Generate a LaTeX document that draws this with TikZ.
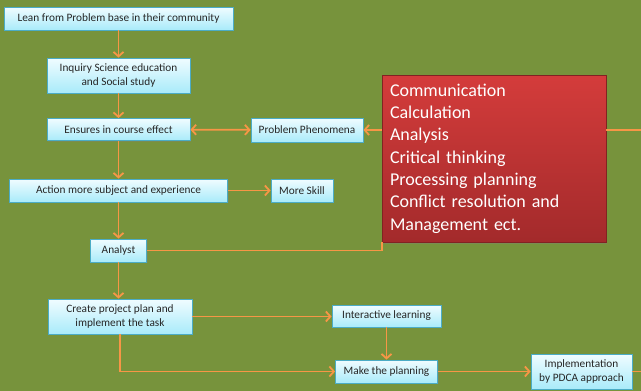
\documentclass[tikz,border=0pt]{standalone}
\usepackage{fontspec}
\setmainfont{Carlito}
\usetikzlibrary{arrows.meta,shadows}
\definecolor{olivebg}{HTML}{77933C}
\definecolor{boxtop}{HTML}{F0FCFF}
\definecolor{boxbot}{HTML}{A9EBFA}
\definecolor{boxline}{HTML}{4BACC6}
\definecolor{linkor}{HTML}{F79646}
\definecolor{redtop}{HTML}{D43C3B}
\definecolor{redbot}{HTML}{A32A2B}

\begin{document}
\begin{tikzpicture}[x=1pt, y=-1pt,
    >={Straight Barb[length=4.5pt,width=10pt]},
    stepbox/.style={shape=rectangle, draw=boxline, line width=0.8pt, top color=boxtop, bottom color=boxbot,
        font=\fontsize{11.3}{13.4}\selectfont, text=black!85, align=center, inner sep=1pt,
        drop shadow={shadow xshift=1pt, shadow yshift=-1.2pt, opacity=0.35}},
    skillbox/.style={shape=rectangle, draw=redbot!80!black, line width=0.6pt, top color=redtop, bottom color=redbot,
        font=\fontsize{18}{22.3}\selectfont, text=white, align=left, inner sep=8pt,
        drop shadow={shadow xshift=1.2pt, shadow yshift=-1.5pt, opacity=0.35}},
    link/.style={draw=linkor, line width=1.8pt}]
    \fill[olivebg] (0,0) rectangle (641,391);
    \useasboundingbox (0,0) rectangle (641,391);

    \node[stepbox, minimum width=229pt, minimum height=23pt] (lean) at (118.5,18.5) {Lean from Problem base in their community};
    \node[stepbox, minimum width=143pt, minimum height=35pt] (inquiry) at (118.5,75.5) {Inquiry Science education\\and Social study};
    \node[stepbox, minimum width=143pt, minimum height=22pt] (ensures) at (118.5,129.5) {Ensures in course effect};
    \node[stepbox, minimum width=112pt, minimum height=24pt] (phenom) at (307,130) {Problem Phenomena};
    \node[skillbox, minimum width=224pt, minimum height=167pt, text width=208pt] (skills) at (494,158.5) {Communication\\Calculation\\Analysis\\Critical thinking\\Processing planning\\Conflict resolution and\\Management ect.};
    \node[stepbox, minimum width=218pt, minimum height=23pt] (action) at (118.5,190.5) {Action more subject and experience};
    \node[stepbox, minimum width=62pt, minimum height=23pt] (skill) at (302,190.5) {More Skill};
    \node[stepbox, minimum width=56pt, minimum height=23pt] (analyst) at (118.5,250.5) {Analyst};
    \node[stepbox, minimum width=144pt, minimum height=35pt] (create) at (120,316.5) {Create project plan and\\implement the task};
    \node[stepbox, minimum width=109pt, minimum height=22pt] (interactive) at (386.5,316) {Interactive learning};
    \node[stepbox, minimum width=102pt, minimum height=23pt] (make) at (386.5,371.5) {Make the planning};
    \node[stepbox, minimum width=101pt, minimum height=35pt] (impl) at (581.5,371.5) {Implementation\\by PDCA approach};
    \coordinate (outA) at (641,130);
    \coordinate (outB) at (641,371.5);

    \draw[link, ->] (lean) -- (inquiry);
    \draw[link, ->] (inquiry) -- (ensures);
    \draw[link, <->] (ensures) -- (phenom);
    \draw[link, ->] (skills.west |- phenom) -- (phenom);
    \draw[link] (skills.east |- outA) -- (outA);
    \draw[link, ->] (ensures) -- (action);
    \draw[link, ->] (action) -- (skill);
    \draw[link, ->] (action) -- (analyst);
    \draw[link] (analyst) -| (skills.south west);
    \draw[link, ->] (analyst) -- (analyst |- create.north);
    \draw[link, ->] (create) -- (create -| interactive.west);
    \draw[link, ->] (interactive) -- (make);
    \draw[link, ->] (create) |- (make);
    \draw[link, ->] (make) -- (impl);
    \draw[link] (impl) -- (outB);
\end{tikzpicture}
\end{document}
